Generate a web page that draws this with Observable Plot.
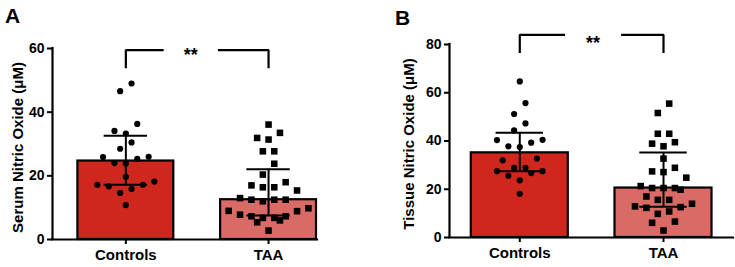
<!DOCTYPE html>
<html><head><meta charset="utf-8">
<script src="https://cdn.jsdelivr.net/npm/d3@7"></script>
<script src="https://cdn.jsdelivr.net/npm/@observablehq/plot@0.6"></script>
<style>
body{margin:0;background:#fff;font-family:"Liberation Sans",Arial,sans-serif;}
#wrap{position:relative;width:735px;height:267px;overflow:hidden;background:#fff}
.panel{position:absolute;top:0}
.letter{position:absolute;font-weight:bold;font-size:21px;line-height:1;color:#000}
</style></head><body>
<div id="wrap"></div>
<script>
// ---- data ----
const groups = ["Controls", "TAA"];
const serumControls = [49.0, 46.6, 36.3, 34.1, 33.3, 30.5, 28.5, 25.9, 26.0, 24.0, 23.9, 25.3, 19.7, 18.2, 17.2, 15.9, 14.6, 16.7, 17.2, 10.8];
const serumTAA = [36.1, 33.5, 31.4, 31.9, 27.7, 27.7, 23.8, 20.4, 18.0, 16.4, 16.4, 17.0, 15.4, 13.0, 12.5, 12.0, 12.5, 12.5, 9.8, 9.0, 7.3, 6.0, 6.8, 6.8, 5.4, 7.3, 7.8, 8.9, 2.8];
const tissueControls = [64.7, 55.7, 51.2, 47.3, 44.4, 40.4, 40.5, 37.8, 37.5, 39.3, 32.0, 32.7, 27.5, 28.9, 28.9, 27.5, 25.6, 26.7, 23.7, 18.1];
const tissueTAA = [55.5, 51.6, 43.0, 43.0, 39.5, 37.8, 38.9, 32.7, 28.9, 27.1, 27.4, 24.8, 21.3, 20.5, 20.5, 20.5, 19.8, 17.0, 14.0, 15.6, 15.6, 12.3, 10.8, 9.8, 12.6, 12.9, 6.6, 6.1, 2.9];
const serumTicks = [0, 20, 40, 60];
const tissueTicks = [0, 20, 40, 60, 80];
const panelLetters = ["A", "B"];
const yLabels = ["Serum Nitric Oxide (μM)", "Tissue Nitric Oxide (μM)"];
const significance = ["**", "**"];

// ---- styles ----
const barColors = ["#cf271d", "#d96a66"];
const symbols = ["circle", "square"];
const symbolR = [3.1, 3.7];
const FONT = "'Liberation Sans', Arial, Helvetica, sans-serif";

// GraphPad-style quartiles (n+1)p
function quant(values, p) {
  const s = values.slice().sort((a, b) => a - b), n = s.length;
  const h = (n + 1) * p, lo = Math.floor(h);
  if (lo < 1) return s[0];
  if (lo >= n) return s[n - 1];
  return s[lo - 1] + (h - lo) * (s[lo] - s[lo - 1]);
}

// row-based scatter layout (like GraphPad)
function swarm(values, gi, pxY, pxX, step, thresh) {
  const sorted = values.slice().sort((a, b) => a - b);
  const rows = []; let cur = null;
  for (const v of sorted) {
    if (!cur || (v - cur[0]) * pxY > thresh) { cur = [v]; rows.push(cur); } else cur.push(v);
  }
  const out = [];
  for (const row of rows) {
    const n = row.length;
    row.forEach((v, j) => {
      let slot;
      if (n % 2) slot = j === 0 ? 0 : (j % 2 ? -Math.ceil(j / 2) : j / 2);
      else { const m = Math.floor(j / 2) + 0.5; slot = j % 2 === 0 ? -m : m; }
      out.push({gi, v, x: gi + slot * step / pxX});
    });
  }
  return out;
}

const panels = [
  {series: [serumControls, serumTAA], ticks: serumTicks, left: 0, width: 370, ml: 52, mr: 53, mt: 48, mb: 28,
   xDomain: [-0.514, 1.343], barHalf: 0.336, capHalf: 0.152, bracketY: 59.5, bracketEnd: 53.8,
   starX: 0.455, gapHalf: 0.19, starDy: 5, labelDx: -34.5, labelDy: 3.5, letterLeft: 5, letterTop: 5},
  {series: [tissueControls, tissueTAA], ticks: tissueTicks, left: 370, width: 365, ml: 79, mr: 2, mt: 44, mb: 30,
   xDomain: [-0.489, 1.487], barHalf: 0.3375, capHalf: 0.165, bracketY: 84, bracketEnd: 76.5,
   starX: 0.51, gapHalf: 0.195, starDy: 8.5, labelDx: -40, labelDy: 3, letterLeft: 395, letterTop: 7}
];

const wrap = document.getElementById("wrap");
const H = 267;

panels.forEach((P, pi) => {
  const yDomain = [P.ticks[0], P.ticks[P.ticks.length - 1]];
  const pxY = (H - P.mt - P.mb) / (yDomain[1] - yDomain[0]);
  const pxX = (P.width - P.ml - P.mr) / (P.xDomain[1] - P.xDomain[0]);
  const summary = P.series.map((vals, gi) => ({
    gi, group: groups[gi],
    median: quant(vals, 0.5), q1: quant(vals, 0.25), q3: quant(vals, 0.75)
  }));
  const caps = summary.flatMap(d => [{gi: d.gi, v: d.q1}, {gi: d.gi, v: d.q3}]);
  const points = P.series.map((vals, gi) => swarm(vals, gi, pxY, pxX, 11.4, 11.5));
  const bracket = [
    {k: 0, x: 0, y: P.bracketEnd}, {k: 0, x: 0, y: P.bracketY}, {k: 0, x: P.starX - P.gapHalf, y: P.bracketY},
    {k: 1, x: P.starX + P.gapHalf, y: P.bracketY}, {k: 1, x: 1, y: P.bracketY}, {k: 1, x: 1, y: P.bracketEnd}
  ];

  const chart = Plot.plot({
    width: P.width, height: H,
    marginLeft: P.ml, marginRight: P.mr, marginTop: P.mt, marginBottom: P.mb,
    x: {type: "linear", domain: P.xDomain},
    y: {domain: yDomain},
    style: {fontFamily: FONT, fontWeight: "bold", fontSize: "14px", color: "black", background: "transparent", overflow: "visible"},
    marks: [
      Plot.rect(summary, {x1: d => d.gi - P.barHalf, x2: d => d.gi + P.barHalf, y1: 0, y2: "median",
        fill: d => barColors[d.gi], stroke: "black", strokeWidth: 2.2}),
      Plot.ruleX(summary, {x: "gi", y1: "q1", y2: "q3", stroke: "black", strokeWidth: 2}),
      Plot.ruleY(caps, {y: "v", x1: d => d.gi - P.capHalf, x2: d => d.gi + P.capHalf, stroke: "black", strokeWidth: 2}),
      ...points.map((pts, gi) => Plot.dot(pts, {x: "x", y: "v", r: symbolR[gi], symbol: symbols[gi], fill: "black", stroke: "none"})),
      Plot.ruleY([yDomain[0]], {stroke: "black", strokeWidth: 2.2, strokeLinecap: "square"}),
      Plot.ruleX([P.xDomain[0]], {y1: yDomain[0], y2: yDomain[1], stroke: "black", strokeWidth: 2.2, strokeLinecap: "square"}),
      Plot.axisY({ticks: P.ticks, tickSize: 5, tickPadding: 3, strokeWidth: 2, fontSize: 14, fontWeight: "bold", label: null}),
      Plot.axisX({ticks: [0, 1], tickFormat: i => groups[i], tickSize: 5, tickPadding: 5, strokeWidth: 2, fontSize: 15, fontWeight: "bold", label: null}),
      Plot.line(bracket, {x: "x", y: "y", z: "k", stroke: "black", strokeWidth: 2.2, strokeLinejoin: "miter", strokeLinecap: "butt"}),
      Plot.text([significance[pi]], {x: P.starX, y: P.bracketY, text: d => d, fontSize: 18, fontWeight: "bold", dy: P.starDy}),
      Plot.text([yLabels[pi]], {frameAnchor: "left", text: d => d, rotate: -90, textAnchor: "middle", lineAnchor: "middle",
        dx: P.labelDx, dy: P.labelDy, fontSize: 15, fontWeight: "bold"})
    ]
  });
  const div = document.createElement("div");
  div.className = "panel";
  div.style.left = P.left + "px";
  div.appendChild(chart);
  wrap.appendChild(div);

  const letter = document.createElement("div");
  letter.className = "letter";
  letter.textContent = panelLetters[pi];
  letter.style.left = P.letterLeft + "px";
  letter.style.top = P.letterTop + "px";
  wrap.appendChild(letter);
});
</script>
</body></html>
